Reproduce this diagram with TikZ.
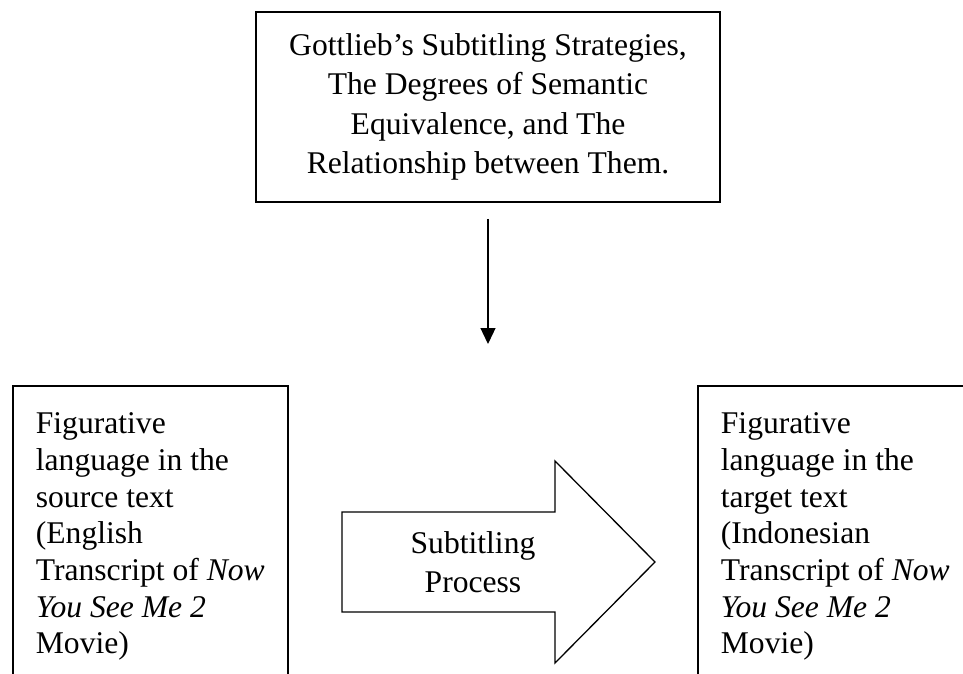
\documentclass[tikz,border=0pt]{standalone}
\usepackage{fontspec}
\setmainfont{Liberation Serif}
\usetikzlibrary{arrows.meta}

\begin{document}
\begin{tikzpicture}[x=1pt,y=-1pt]
        \tikzstyle{box}=[rectangle,draw,line width=1.6pt,font=\fontsize{31.6}{36.7}\selectfont]
        \tikzstyle{sidebox}=[box,anchor=north west,align=left,minimum width=275pt,inner xsep=21pt,inner ysep=27pt]
        \useasboundingbox (0,0) rectangle (963,674);
        \clip (0,0) rectangle (963,674);
        \node[box,align=center,minimum width=464pt,minimum height=190pt,font=\fontsize{31.6}{39.5}\selectfont] (theory) at (488,107)
        {Gottlieb’s Subtitling Strategies,\\ The Degrees of Semantic\\ Equivalence, and The\\ Relationship between Them.};
        \coordinate (goal) at (488,344);
        \draw[-{Triangle[width=15pt,length=16pt]},line width=1.3pt] ([yshift=-16pt]theory.south) -- (goal);
        \node[sidebox] (source) at (12,385) {Figurative\\ language in the\\ source text\\ (English\\ Transcript of \textit{Now}\\ \textit{You See Me 2}\\ Movie)};
        \node[sidebox] (target) at (697,385) {Figurative\\ language in the\\ target text\\ (Indonesian\\ Transcript of \textit{Now}\\ \textit{You See Me 2}\\ Movie)};
        \draw[line width=1.3pt,line join=miter] (342,512) -- (555,512) -- (555,461) -- (655,562) -- (555,663) -- (555,612) -- (342,612) -- cycle;
        \node[font=\fontsize{31.6}{39}\selectfont,align=center] (process) at (473,562) {Subtitling\\ Process};
    ;\end{tikzpicture}
\end{document}
